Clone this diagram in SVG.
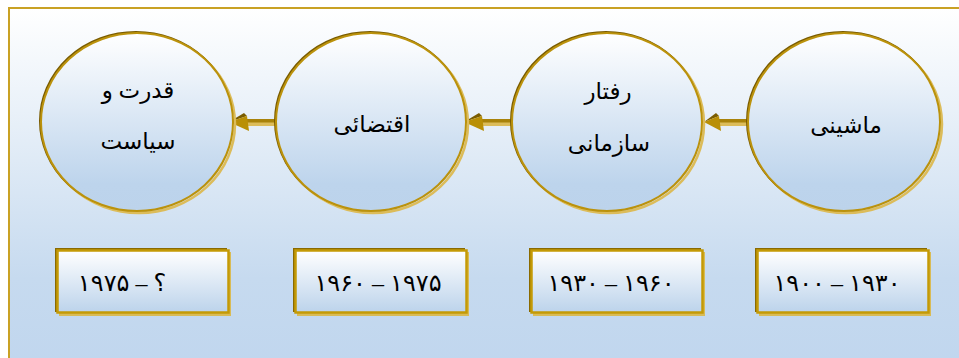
<svg xmlns="http://www.w3.org/2000/svg" width="959" height="358" viewBox="0 0 959 358">
  <defs>
    <linearGradient id="bgGrad" x1="0" y1="0" x2="0" y2="1">
      <stop offset="0" stop-color="#ffffff"/>
      <stop offset="0.75" stop-color="#c6daef"/>
      <stop offset="1" stop-color="#c0d6ee"/>
    </linearGradient>
    <linearGradient id="nodeGrad" x1="0" y1="0" x2="0" y2="1">
      <stop offset="0" stop-color="#ffffff"/>
      <stop offset="0.85" stop-color="#bdd4ec"/>
      <stop offset="1" stop-color="#bcd3eb"/>
    </linearGradient>
    <linearGradient id="boxGrad" x1="0" y1="0" x2="0" y2="1">
      <stop offset="0" stop-color="#ffffff"/>
      <stop offset="1" stop-color="#bcd3eb"/>
    </linearGradient>
  </defs>
  <style>
    .frame { fill: url(#bgGrad); stroke: #c9a124; stroke-width: 2; }
    .ring-dark { fill: none; stroke: #7a5c00; stroke-width: 2; }
    .ring-light { fill: none; stroke: #dcbc5a; stroke-width: 2.5; }
    .ring { fill: url(#nodeGrad); stroke: #bb920c; stroke-width: 2; }
    .box-dark { fill: #8a6a00; }
    .box-light { fill: #d9bb55; }
    .box { fill: url(#boxGrad); stroke: #c49a06; stroke-width: 2.5; }
    .label { font-family: "Liberation Serif", "DejaVu Serif", "DejaVu Sans", serif; font-size: 23px; fill: #000; text-anchor: middle; }
    .years { font-family: "Liberation Serif", "DejaVu Sans", serif; font-size: 24px; fill: #000; text-anchor: middle; direction: ltr; }
    .shaft-light { fill: #dcbc5a; }
    .shaft { fill: #a8820a; }
    .head { fill: #b98f06; }
    .head-dark { fill: #7a5c00; }
  </style>

  <!-- outer frame -->
  <rect class="frame" x="9" y="8" width="960" height="360"/>

  <!-- connectors: each points from the later era to the earlier one -->
  <g id="connectors">
    <g id="arrow-2-1">
      <rect class="shaft-light" x="244" y="121.5" width="34" height="4.5"/>
      <rect class="shaft" x="244" y="119" width="33" height="3.5"/>
      <polygon class="head-dark" points="229,122 244,113 247,116"/>
      <polygon class="head" points="229,122 247,116 249,131"/>
    </g>
    <g id="arrow-3-2">
      <rect class="shaft-light" x="479" y="121.5" width="34" height="4.5"/>
      <rect class="shaft" x="479" y="119" width="33" height="3.5"/>
      <polygon class="head-dark" points="464,122 479,113 482,116"/>
      <polygon class="head" points="464,122 482,116 484,131"/>
    </g>
    <g id="arrow-4-3">
      <rect class="shaft-light" x="715" y="121.5" width="34" height="4.5"/>
      <rect class="shaft" x="715" y="119" width="33" height="3.5"/>
      <polygon class="head-dark" points="704,122 716,113 719,116"/>
      <polygon class="head" points="704,122 719,116 721,131"/>
    </g>
  </g>

  <!-- era circles -->
  <g id="node-power">
    <ellipse class="ring-light" cx="139" cy="124" rx="96" ry="89"/>
    <ellipse class="ring-dark" cx="136" cy="121" rx="96" ry="89"/>
    <ellipse class="ring" cx="137" cy="122" rx="96" ry="89"/>
    <text class="label" x="138" y="98">قدرت و</text>
    <text class="label" x="138" y="149">سیاست</text>
  </g>
  <g id="node-contingency">
    <ellipse class="ring-light" cx="373" cy="124" rx="95" ry="89"/>
    <ellipse class="ring-dark" cx="370" cy="121" rx="95" ry="89"/>
    <ellipse class="ring" cx="371" cy="122" rx="95" ry="89"/>
    <text class="label" x="372" y="132">اقتضائی</text>
  </g>
  <g id="node-behavior">
    <ellipse class="ring-light" cx="609" cy="124" rx="95" ry="89"/>
    <ellipse class="ring-dark" cx="606" cy="121" rx="95" ry="89"/>
    <ellipse class="ring" cx="607" cy="122" rx="95" ry="89"/>
    <text class="label" x="608" y="99">رفتار</text>
    <text class="label" x="609" y="151">سازمانی</text>
  </g>
  <g id="node-machine">
    <ellipse class="ring-light" cx="846" cy="124" rx="96" ry="89"/>
    <ellipse class="ring-dark" cx="843" cy="121" rx="96" ry="89"/>
    <ellipse class="ring" cx="844" cy="122" rx="96" ry="89"/>
    <text class="label" x="846" y="133">ماشینی</text>
  </g>

  <!-- period boxes -->
  <g id="period-4">
    <rect class="box-dark" x="55" y="248" width="172" height="64"/>
    <rect class="box-light" x="59" y="252" width="172" height="64"/>
    <rect class="box" x="57.5" y="250.5" width="171" height="62"/>
    <text class="years" x="122" y="291">۱۹۷۵ – ؟</text>
  </g>
  <g id="period-3">
    <rect class="box-dark" x="293" y="248" width="172" height="64"/>
    <rect class="box-light" x="297" y="252" width="172" height="64"/>
    <rect class="box" x="295.5" y="250.5" width="171" height="62"/>
    <text class="years" x="378" y="291">۱۹۶۰ – ۱۹۷۵</text>
  </g>
  <g id="period-2">
    <rect class="box-dark" x="529" y="248" width="172" height="64"/>
    <rect class="box-light" x="533" y="252" width="172" height="64"/>
    <rect class="box" x="531.5" y="250.5" width="171" height="62"/>
    <text class="years" x="611" y="291">۱۹۳۰ – ۱۹۶۰</text>
  </g>
  <g id="period-1">
    <rect class="box-dark" x="755" y="248" width="172" height="64"/>
    <rect class="box-light" x="759" y="252" width="172" height="64"/>
    <rect class="box" x="757.5" y="250.5" width="171" height="62"/>
    <text class="years" x="837" y="291">۱۹۰۰ – ۱۹۳۰</text>
  </g>
</svg>
